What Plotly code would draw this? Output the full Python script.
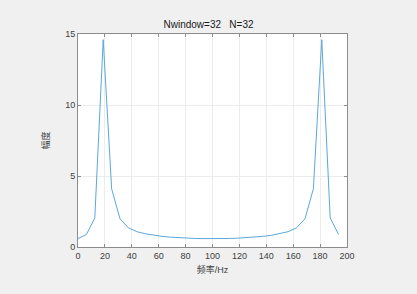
import plotly.graph_objects as go

N = 32
fs = 200
freq = [k * fs / N for k in range(N)]
half = [0.6, 0.88, 2.05, 14.6, 4.1, 1.98, 1.35, 1.08, 0.93, 0.82, 0.75, 0.69, 0.65, 0.62, 0.60, 0.59, 0.58]
amp = half + half[1:16][::-1]

x_ticks = list(range(0, 201, 20))
y_ticks = [0, 5, 10, 15]

fig = go.Figure()
fig.add_trace(go.Scatter(x=freq, y=amp, mode="lines",
                         line=dict(color="#5aa8dc", width=1), showlegend=False))

fig.update_layout(
    width=417, height=294,
    paper_bgcolor="#f0f0f0", plot_bgcolor="#ffffff",
    margin=dict(l=78, r=70, t=34, b=47),
    font=dict(family="Liberation Sans, Noto Sans CJK SC, sans-serif", size=9, color="#404040"),
    title=dict(text="Nwindow=32   N=32", x=0.5, xanchor="center", y=0.915, yanchor="middle",
               font=dict(size=10, color="#1a1a1a")),
)
axis_common = dict(showline=True, linecolor="#8c8c8c", linewidth=1, mirror="ticks",
                   ticks="inside", ticklen=3, tickcolor="#8c8c8c",
                   showgrid=True, gridcolor="#ececec", gridwidth=1, zeroline=False,
                   tickfont=dict(size=9, color="#404040"))
fig.update_xaxes(range=[0, 200], tickvals=x_ticks,
                 title=dict(text="频率/Hz", font=dict(size=9, color="#404040"), standoff=6),
                 **axis_common)
fig.update_yaxes(range=[0, 15], tickvals=y_ticks,
                 title=dict(text="幅度", font=dict(size=9, color="#404040"), standoff=14),
                 **axis_common)

fig.write_html("out.html")
